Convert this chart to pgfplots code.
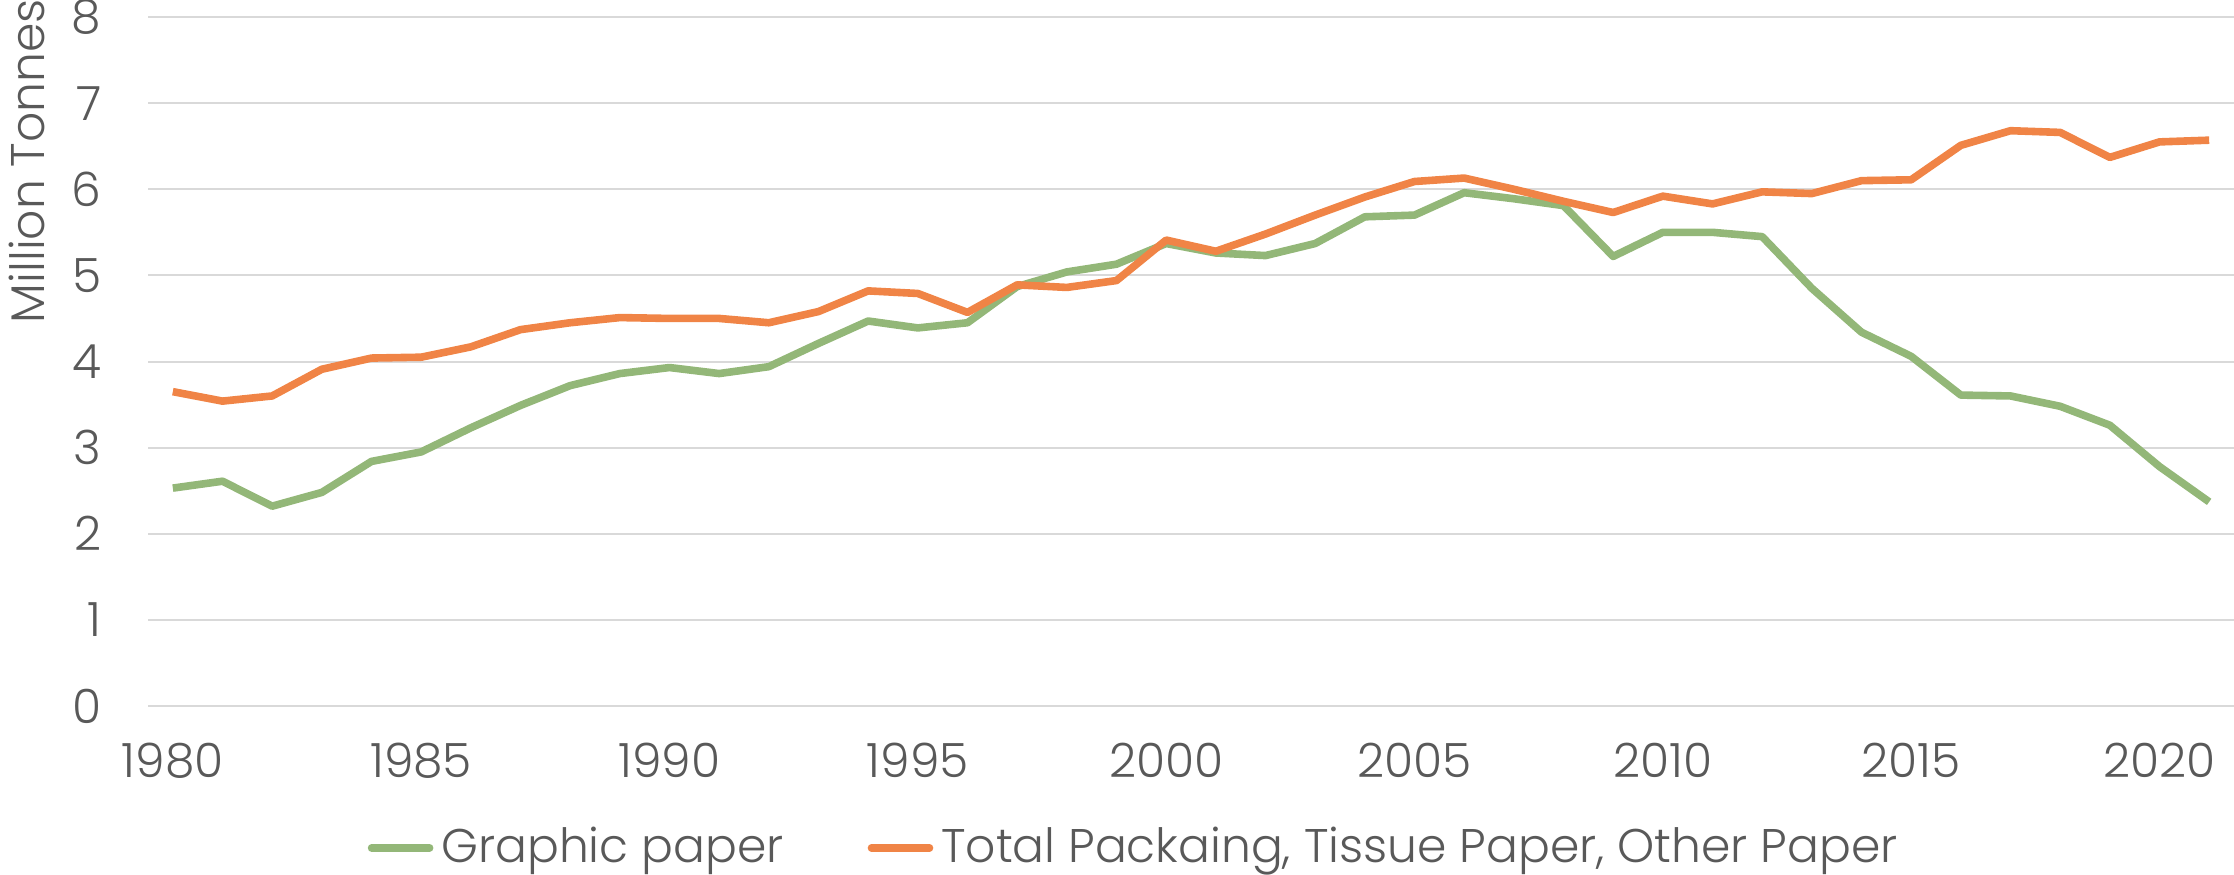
\documentclass[border=0pt]{standalone}
\usepackage{fontspec}
\setmainfont{Poppins}[UprightFont={* Light}]
\usepackage{pgfplots}
\pgfplotsset{compat=1.18}
\definecolor{gline}{RGB}{147,183,120}
\definecolor{oline}{RGB}{240,132,70}
\definecolor{txt}{RGB}{89,89,89}
\definecolor{grd}{RGB}{217,217,217}
\begin{document}
\begin{tikzpicture}
\path[use as bounding box] (0,0) rectangle (558.5pt,218.75pt);
\begin{axis}[
  at={(37pt,42.25pt)}, anchor=south west,
  scale only axis, width=521.5pt, height=172.25pt,
  xmin=1979.5, xmax=2021.5, ymin=0, ymax=8,
  axis line style={draw=none},
  major tick length=0pt,
  xtick={1980,1985,...,2020}, ytick={0,1,...,8},
  ymajorgrids, grid style={grd, line width=0.5pt},
  /pgf/number format/assume math mode=true,
  x tick label style={/pgf/number format/1000 sep={}},
  ticklabel style={font=\fontsize{11.8}{13}\selectfont, text=txt},
  yticklabel style={anchor=east, inner sep=0pt, xshift=-11.5pt},
  xticklabel style={anchor=north, inner sep=0pt, yshift=-9pt},
  ylabel={Million Tonnes},
  ylabel style={at={(axis description cs:-0.058,0.791)}, anchor=center, font=\fontsize{11.8}{13}\selectfont, text=txt},
  legend columns=2,
  legend style={draw=none, at={(axis description cs:0.474,-0.206)}, anchor=center,
    font=\fontsize{11.8}{13}\selectfont, text=txt, inner sep=0pt,
    /tikz/every even column/.append style={column sep=19pt}},
  legend image code/.code={\draw[#1, line cap=round] (0pt,0pt) -- (14.5pt,0pt);},
]
\addplot[gline, line width=1.9pt, line join=round] coordinates {
(1980,2.53) (1981,2.61) (1982,2.32) (1983,2.48) (1984,2.84) (1985,2.95)
(1986,3.23) (1987,3.49) (1988,3.72) (1989,3.86) (1990,3.93) (1991,3.86)
(1992,3.94) (1993,4.21) (1994,4.47) (1995,4.39) (1996,4.45) (1997,4.87)
(1998,5.04) (1999,5.13) (2000,5.37) (2001,5.26) (2002,5.23) (2003,5.37)
(2004,5.68) (2005,5.70) (2006,5.96) (2007,5.89) (2008,5.81) (2009,5.22)
(2010,5.50) (2011,5.50) (2012,5.45) (2013,4.85) (2014,4.34) (2015,4.06)
(2016,3.61) (2017,3.60) (2018,3.48) (2019,3.26) (2020,2.78) (2021,2.37)
};
\addlegendentry{Graphic paper}
\addplot[oline, line width=1.9pt, line join=round] coordinates {
(1980,3.65) (1981,3.54) (1982,3.60) (1983,3.91) (1984,4.04) (1985,4.05)
(1986,4.17) (1987,4.37) (1988,4.45) (1989,4.51) (1990,4.50) (1991,4.50)
(1992,4.45) (1993,4.58) (1994,4.82) (1995,4.79) (1996,4.57) (1997,4.89)
(1998,4.86) (1999,4.94) (2000,5.41) (2001,5.28) (2002,5.48) (2003,5.70)
(2004,5.91) (2005,6.09) (2006,6.13) (2007,6.00) (2008,5.86) (2009,5.73)
(2010,5.92) (2011,5.83) (2012,5.97) (2013,5.95) (2014,6.10) (2015,6.11)
(2016,6.51) (2017,6.68) (2018,6.66) (2019,6.37) (2020,6.55) (2021,6.57)
};
\addlegendentry{Total Packaing, Tissue Paper, Other Paper}
\end{axis}
\end{tikzpicture}
\end{document}
